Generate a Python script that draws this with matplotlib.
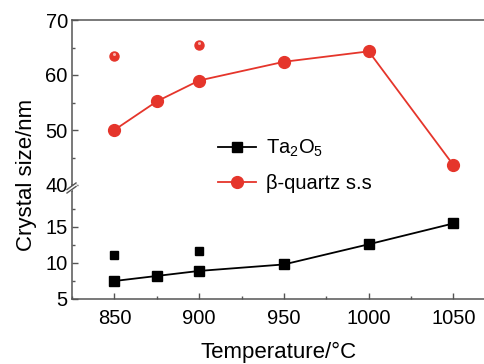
import matplotlib
matplotlib.use('Agg')
import matplotlib.pyplot as plt
from matplotlib.ticker import MultipleLocator, FixedLocator
from matplotlib.lines import Line2D
from matplotlib.patches import Polygon

plt.rcParams['font.family'] = ['Liberation Sans', 'DejaVu Sans']
plt.rcParams['mathtext.fontset'] = 'custom'
plt.rcParams['mathtext.rm'] = 'Liberation Sans'
plt.rcParams['mathtext.it'] = 'Liberation Sans:italic'

# Crystal size vs. sintering temperature
temps = [850, 875, 900, 950, 1000, 1050]
quartz_size = [50.0, 55.2, 59.0, 62.4, 64.3, 43.6]
ta2o5_size = [7.5, 8.2, 8.9, 9.8, 12.6, 15.5]

# Additional single measurements
extra_temps = [850, 900]
quartz_extra = [63.4, 65.4]
ta2o5_extra = [11.1, 11.6]

x_ticks = [850, 900, 950, 1000, 1050]
upper_ticks = [40, 50, 60, 70]
lower_ticks = [5, 10, 15]

RED = '#e5352b'
SPINE = '#555555'
W, H = 484, 364

fig = plt.figure(figsize=(W / 100, H / 100), dpi=100)


def box(x0, y0, x1, y1):
    """Axes rectangle from pixel coordinates (origin top-left)."""
    return [x0 / W, 1 - y1 / H, (x1 - x0) / W, (y1 - y0) / H]


ax_top = fig.add_axes(box(72, 20, 484, 185))
ax_bot = fig.add_axes(box(72, 191, 484, 299), sharex=ax_top)

# upper panel: beta-quartz solid solution
ax_top.plot(temps, quartz_size, '-o', color=RED, lw=1.3, ms=8.5,
            mec=RED, mfc=RED, label='\u03b2-quartz s.s', zorder=3)
ax_top.plot(extra_temps, quartz_extra, 'o', color=RED, ms=6.5, zorder=3)
ax_top.plot(extra_temps, [v + 0.35 for v in quartz_extra], 'o',
            color='#f6b3ad', ms=2.2, mew=0, zorder=4)

# lower panel: Ta2O5
ax_bot.plot(temps, ta2o5_size, '-s', color='black', lw=1.3, ms=7,
            label=r'Ta$_2$O$_5$', zorder=3)
ax_bot.plot(extra_temps, ta2o5_extra, 's', color='black', ms=6, zorder=3)

ax_top.set_xlim(825, 1068)
ax_top.set_ylim(40, 70)
ax_bot.set_ylim(5, 20)

for ax in (ax_top, ax_bot):
    ax.spines['right'].set_visible(False)
    for s in ax.spines.values():
        s.set_color(SPINE)
        s.set_linewidth(1.1)
    ax.tick_params(which='both', direction='in', colors=SPINE,
                   labelcolor='black', labelsize=14.5, width=1.0)
    ax.tick_params(which='major', length=4)
    ax.tick_params(which='minor', length=2.5)
    ax.tick_params(axis='y', pad=3)

ax_top.spines['bottom'].set_visible(False)
ax_bot.spines['top'].set_visible(False)

ax_top.tick_params(axis='x', which='both', bottom=False, top=False,
                   labelbottom=False)
ax_top.yaxis.set_major_locator(FixedLocator(upper_ticks))
ax_top.yaxis.set_minor_locator(MultipleLocator(5))

ax_bot.xaxis.set_major_locator(FixedLocator(x_ticks))
ax_bot.xaxis.set_minor_locator(MultipleLocator(25))
ax_bot.tick_params(axis='x', pad=7)
ax_bot.yaxis.set_major_locator(FixedLocator(lower_ticks))
ax_bot.yaxis.set_minor_locator(FixedLocator([7.5, 12.5, 17.5]))

# continuous left spine across the break, with a break mark
fig.add_artist(Line2D([72 / W, 72 / W], [1 - 191 / H, 1 - 185 / H],
                      transform=fig.transFigure, color=SPINE, lw=1.1))
px = lambda x, y: (x / W, 1 - y / H)
fig.add_artist(Polygon([px(67, 190), px(75, 184), px(78, 186), px(70, 192)],
                       closed=True, transform=fig.transFigure,
                       facecolor='white', edgecolor='none', zorder=5))
for dy in (0, 3.5):
    fig.add_artist(Line2D([67 / W, 76 / W], [1 - (189.5 + dy) / H, 1 - (183 + dy) / H],
                          transform=fig.transFigure, color=SPINE, lw=1.0, zorder=6))

# legend combining both panels
h1, l1 = ax_bot.get_legend_handles_labels()
h2, l2 = ax_top.get_legend_handles_labels()
fig.legend(h1 + h2, l1 + l2, loc='upper left',
           bbox_to_anchor=(218 / W, 1 - 138 / H), frameon=False,
           fontsize=14.5, handlelength=1.9, handletextpad=0.5,
           labelspacing=0.75, borderpad=0, borderaxespad=0)

fig.text(27 / W, 1 - 175 / H, 'Crystal size/nm', rotation=90,
         ha='center', va='center', fontsize=16)
fig.text(279 / W, 1 - 352 / H, 'Temperature/\u00b0C',
         ha='center', va='center', fontsize=16)

fig.savefig('out.png', dpi=100)
